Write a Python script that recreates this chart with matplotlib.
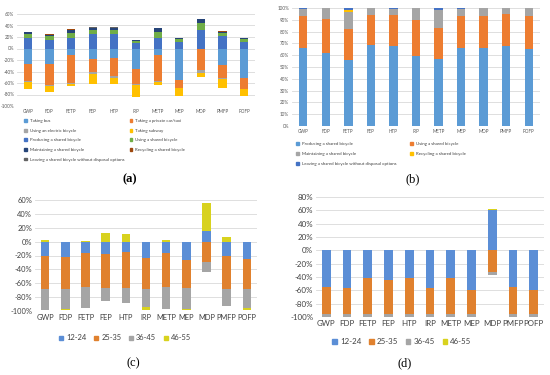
import numpy as np
import matplotlib
matplotlib.use('Agg')
import matplotlib.pyplot as plt
from matplotlib.patches import Patch

plt.rcParams['font.family'] = ['Lato', 'DejaVu Sans']

# shared categories
cats = ['GWP', 'FDP', 'FETP', 'FEP', 'HTP', 'IRP', 'METP', 'MEP', 'MDP', 'PMFP', 'POFP']

# (a) travel modes and shared bicycle stages
a_names = ['Taking bus', 'Taking a private car/taxi', 'Using an electric bicycle', 'Taking subway',
           'Producing a shared bicycle', 'Using a shared bicycle', 'Maintaining a shared bicycle',
           'Recycling a shared bicycle', 'Leaving a shared bicycle without disposal options']
a_bus = [-27, -27, -12, -19, -17, -35, -12, -54, -1, -29, -52]
a_car = [-30, -37, -48, -22, -31, -26, -45, -14, -37, -23, -18]
a_ebike = [-2, -2, -2, -3, -3, -2, -2, -1, -5, -1, -1]
a_subway = [-12, -9, -4, -18, -11, -21, -5, -13, -6, -16, -11]
a_producing = [19, 14, 18, 25, 26, 9, 19, 12, 33, 21, 12]
a_using = [7, 7, 9, 7, 7, 4, 9, 5, 12, 6, 5]
a_maintaining = [2, 3, 6, 4, 3, 1, 7, 1, 6, 2, 1]
a_recycling = [0.5, 0.5, 0.5, 0.5, 0.5, 0.3, 0.5, 0.3, 0.5, 1.5, 0.3]
a_leaving = [0.3, 0.3, 0.3, 0.3, 0.3, 0.2, 0.3, 0.2, 0.3, 0.3, 0.2]
a_colors = ['#5B9BD5', '#ED7D31', '#A5A5A5', '#FFC000', '#4472C4',
            '#70AD47', '#264478', '#9E480E', '#636363']

# (b) shares of shared bicycle stages
b_names = ['Producing a shared bicycle', 'Using a shared bicycle', 'Maintaining a shared bicycle',
           'Recycling a shared bicycle', 'Leaving a shared bicycle without disposal options']
b_producing = [66, 62, 56, 69, 68, 59, 57, 66, 66, 68, 65]
b_using = [27, 29, 26, 25, 26, 31, 26, 27, 27, 27, 28]
b_maintaining = [6, 9, 15, 6, 5, 10, 15, 6, 7, 5, 7]
b_recycling = [0, 0, 1, 0, 0, 0, 0, 0, 0, 0, 0]
b_leaving = [1, 0, 2, 0, 1, 0, 2, 1, 0, 0, 0]
b_colors = ['#5B9BD5', '#ED7D31', '#A5A5A5', '#FFC000', '#4472C4']

# (c) and (d) age groups
ages = ['12-24', '25-35', '36-45', '46-55']
c_12_24 = [-21, -22, -16, -18, -15, -24, -16, -26, 15, -21, -25]
c_25_35 = [-47, -46, -50, -49, -52, -45, -49, -41, -29, -47, -43]
c_36_45 = [-30, -29, -30, -18, -22, -25, -32, -30, -15, -25, -28]
c_46_55 = [2, -2, 1, 13, 11, -5, 2, -2, 41, 6, -3]
d_12_24 = [-55, -57, -42, -45, -42, -57, -42, -60, 60, -55, -60]
d_25_35 = [-41, -39, -54, -51, -54, -39, -54, -36, -33, -41, -36]
d_36_45 = [-4, -4, -4, -4, -4, -4, -4, -4, -4, -4, -4]
d_46_55 = [0, 0, 0, 0, 0, 0, 0, 0, 1.5, 0, 0]
age_colors = ['#5B8ED6', '#E0812E', '#A5A5A5', '#D8D21E']

W, H = 550, 375


def box(l, t, r, b):
    return [l / W, 1 - b / H, (r - l) / W, (b - t) / H]


def stacked(ax, series, colors, width):
    x = np.arange(len(cats))
    pos = np.zeros(len(cats))
    neg = np.zeros(len(cats))
    for vals, col in zip(series, colors):
        v = np.array(vals, dtype=float)
        base = np.where(v >= 0, pos, neg)
        ax.bar(x, v, width, bottom=base, color=col, linewidth=0, zorder=3)
        pos = pos + np.clip(v, 0, None)
        neg = neg + np.clip(v, None, 0)


def style(ax, ticks, fs, tcolor='#595959'):
    ax.set_xlim(-0.5, len(cats) - 0.5)
    ax.set_ylim(ticks[0], ticks[-1])
    ax.set_yticks(ticks)
    ax.set_yticklabels([f'{t}%' for t in ticks], fontsize=fs, color=tcolor)
    ax.set_xticks(np.arange(len(cats)))
    ax.set_xticklabels(cats, fontsize=fs, color=tcolor)
    ax.tick_params(length=0, pad=2)
    ax.grid(axis='y', color='#D9D9D9', linewidth=0.6, zorder=0)
    for s in ax.spines.values():
        s.set_visible(False)


fig = plt.figure(figsize=(5.5, 3.75), dpi=100)

# (a)
ax = fig.add_axes(box(17, 14, 255, 106))
stacked(ax, [a_bus, a_car, a_ebike, a_subway, a_producing, a_using,
             a_maintaining, a_recycling, a_leaving], a_colors, 0.38)
style(ax, list(range(-100, 61, 20)), 3.3)
order = [0, 2, 4, 6, 8, 1, 3, 5, 7]
ax.legend([Patch(color=a_colors[i]) for i in order], [a_names[i] for i in order],
          ncol=2, loc='upper left', bbox_to_anchor=(23 / W, 1 - 118 / H),
          bbox_transform=fig.transFigure, frameon=False, fontsize=3.2,
          handlelength=0.6, handleheight=0.6, handletextpad=0.6,
          columnspacing=1.2, labelspacing=1.25, labelcolor='#404040',
          borderaxespad=0, borderpad=0.3)
fig.text(130 / W, 1 - 179 / H, '(a)', ha='center', va='center',
         family='Liberation Serif', fontsize=9, fontweight='bold')

# (b)
ax = fig.add_axes(box(292, 8, 540, 126))
stacked(ax, [b_producing, b_using, b_maintaining, b_recycling, b_leaving], b_colors, 0.37)
style(ax, list(range(0, 101, 10)), 3.3)
order = [0, 2, 4, 1, 3]
ax.legend([Patch(color=b_colors[i]) for i in order], [b_names[i] for i in order],
          ncol=2, loc='upper left', bbox_to_anchor=(295 / W, 1 - 141 / H),
          bbox_transform=fig.transFigure, frameon=False, fontsize=3.2,
          handlelength=0.6, handleheight=0.6, handletextpad=0.6,
          columnspacing=3.2, labelspacing=1.35, labelcolor='#404040',
          borderaxespad=0, borderpad=0.3)
fig.text(413 / W, 1 - 179 / H, '(b)', ha='center', va='center',
         family='Liberation Serif', fontsize=9)

# (c)
ax = fig.add_axes(box(35, 200, 257, 311))
stacked(ax, [c_12_24, c_25_35, c_36_45, c_46_55], age_colors, 0.42)
style(ax, list(range(-100, 61, 20)), 5.4, '#404040')
ax.legend([Patch(color=c) for c in age_colors], ages, ncol=4, loc='center',
          bbox_to_anchor=(125 / W, 1 - 338 / H), bbox_transform=fig.transFigure,
          frameon=False, fontsize=5.4, handlelength=0.55, handleheight=0.55,
          handletextpad=0.4, columnspacing=1.0, labelcolor='#404040')
fig.text(133 / W, 1 - 363 / H, '(c)', ha='center', va='center',
         family='Liberation Serif', fontsize=9)

# (d)
ax = fig.add_axes(box(316, 197, 544, 317))
stacked(ax, [d_12_24, d_25_35, d_36_45, d_46_55], age_colors, 0.42)
style(ax, list(range(-100, 81, 20)), 5.7, '#404040')
ax.legend([Patch(color=c) for c in age_colors], ages, ncol=4, loc='center',
          bbox_to_anchor=(402 / W, 1 - 342 / H), bbox_transform=fig.transFigure,
          frameon=False, fontsize=5.7, handlelength=0.55, handleheight=0.55,
          handletextpad=0.4, columnspacing=1.0, labelcolor='#404040')
fig.text(405 / W, 1 - 363 / H, '(d)', ha='center', va='center',
         family='Liberation Serif', fontsize=9)

fig.savefig('out.png', dpi=100)
